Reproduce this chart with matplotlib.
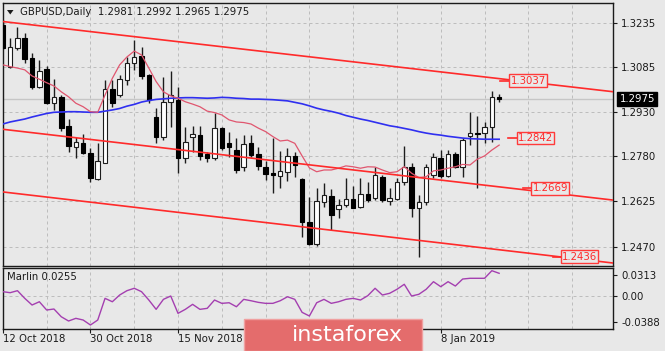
import matplotlib
matplotlib.use("Agg")
import matplotlib.pyplot as plt
import matplotlib.transforms as mtransforms
from matplotlib.patches import Rectangle, Polygon
import numpy as np

# ---------------- data ----------------
symbol_title = "GBPUSD,Daily"
last_ohlc = ["1.2981", "1.2992", "1.2965", "1.2975"]
last_price = 1.2975

opens = [1.3227, 1.3085, 1.3148, 1.3182, 1.3113, 1.3014, 1.3076, 1.2962, 1.2982, 1.2882,
         1.2811, 1.2825, 1.2791, 1.2701, 1.2757, 1.3008, 1.2988, 1.3039, 1.3096, 1.3121,
         1.3056, 1.2914, 1.2846, 1.2965, 1.2971, 1.2772, 1.2844, 1.2851, 1.2787, 1.2772,
         1.2874, 1.2823, 1.2800, 1.2741, 1.2823, 1.2787, 1.2743, 1.2721, 1.2713, 1.2726,
         1.2780, 1.2701, 1.2555, 1.2479, 1.2624, 1.2643, 1.2598, 1.2612, 1.2632, 1.2605,
         1.2650, 1.2636, 1.2709, 1.2627, 1.2633, 1.2692, 1.2743, 1.2601, 1.2624, 1.2715,
         1.2772, 1.2711, 1.2786, 1.2743, 1.2848, 1.2858, 1.2857, 1.2878, 1.2981]
highs = [1.3244, 1.3182, 1.3221, 1.3199, 1.3133, 1.3108, 1.3087, 1.3042, 1.2988, 1.2905,
         1.2846, 1.2855, 1.2808, 1.2825, 1.3039, 1.3039, 1.3056, 1.3118, 1.3176, 1.3153,
         1.3060, 1.2943, 1.3049, 1.3071, 1.3016, 1.2880, 1.2882, 1.2882, 1.2794, 1.2928,
         1.2880, 1.2863, 1.2841, 1.2852, 1.2852, 1.2811, 1.2763, 1.2840, 1.2798, 1.2806,
         1.2793, 1.2703, 1.2639, 1.2669, 1.2687, 1.2666, 1.2633, 1.2704, 1.2678, 1.2706,
         1.2692, 1.2743, 1.2715, 1.2669, 1.2705, 1.2814, 1.2756, 1.2647, 1.2753, 1.2790,
         1.2800, 1.2800, 1.2793, 1.2841, 1.2931, 1.2916, 1.2897, 1.3003, 1.2992]
lows = [1.3145, 1.3081, 1.3142, 1.3098, 1.3010, 1.3011, 1.2957, 1.2937, 1.2865, 1.2794,
        1.2774, 1.2787, 1.2692, 1.2698, 1.2755, 1.2948, 1.2982, 1.3022, 1.3073, 1.3042,
        1.2960, 1.2823, 1.2834, 1.2880, 1.2721, 1.2755, 1.2794, 1.2766, 1.2760, 1.2766,
        1.2800, 1.2777, 1.2721, 1.2730, 1.2777, 1.2732, 1.2698, 1.2654, 1.2669, 1.2694,
        1.2709, 1.2502, 1.2476, 1.2472, 1.2607, 1.2527, 1.2567, 1.2605, 1.2601, 1.2603,
        1.2624, 1.2630, 1.2624, 1.2612, 1.2628, 1.2681, 1.2572, 1.2436, 1.2612, 1.2705,
        1.2705, 1.2708, 1.2739, 1.2709, 1.2817, 1.2669, 1.2823, 1.2829, 1.2965]
closes = [1.3150, 1.3153, 1.3182, 1.3110, 1.3014, 1.3070, 1.2962, 1.2980, 1.2876, 1.2815,
          1.2829, 1.2789, 1.2704, 1.2763, 1.3008, 1.2962, 1.3042, 1.3096, 1.3119, 1.3053,
          1.2971, 1.2846, 1.2965, 1.2988, 1.2772, 1.2829, 1.2855, 1.2780, 1.2772, 1.2876,
          1.2806, 1.2811, 1.2732, 1.2821, 1.2783, 1.2747, 1.2718, 1.2714, 1.2729, 1.2780,
          1.2749, 1.2555, 1.2479, 1.2626, 1.2647, 1.2578, 1.2612, 1.2633, 1.2603, 1.2650,
          1.2630, 1.2715, 1.2630, 1.2637, 1.2692, 1.2743, 1.2601, 1.2624, 1.2743, 1.2775,
          1.2711, 1.2787, 1.2743, 1.2834, 1.2859, 1.2855, 1.2878, 1.2980, 1.2975]

ma_slow = [1.2889, 1.2896, 1.2901, 1.2906, 1.2913, 1.2919, 1.2925, 1.2929, 1.2930, 1.2931,
           1.2931, 1.2930, 1.2929, 1.2929, 1.2933, 1.2937, 1.2942, 1.2950, 1.2956, 1.2964,
           1.2969, 1.2973, 1.2975, 1.2977, 1.2978, 1.2979, 1.2979, 1.2978, 1.2977, 1.2978,
           1.2980, 1.2979, 1.2977, 1.2976, 1.2974, 1.2974, 1.2973, 1.2972, 1.2970, 1.2968,
           1.2963, 1.2958, 1.2951, 1.2943, 1.2937, 1.2932, 1.2926, 1.2918, 1.2912, 1.2906,
           1.2901, 1.2895, 1.2889, 1.2883, 1.2879, 1.2874, 1.2869, 1.2863, 1.2858, 1.2854,
           1.2851, 1.2847, 1.2844, 1.2841, 1.2839, 1.2838, 1.2837, 1.2837, 1.2837]
ma_fast = [1.3091, 1.3085, 1.3080, 1.3074, 1.3053, 1.3042, 1.3030, 1.3019, 1.2999, 1.2982,
           1.2960, 1.2948, 1.2931, 1.2929, 1.2988, 1.3045, 1.3091, 1.3118, 1.3138, 1.3125,
           1.3080, 1.3034, 1.2999, 1.2985, 1.2977, 1.2965, 1.2957, 1.2948, 1.2933, 1.2928,
           1.2920, 1.2903, 1.2896, 1.2894, 1.2889, 1.2875, 1.2863, 1.2846, 1.2831, 1.2834,
           1.2823, 1.2780, 1.2739, 1.2726, 1.2732, 1.2732, 1.2738, 1.2746, 1.2743, 1.2738,
           1.2743, 1.2742, 1.2732, 1.2723, 1.2726, 1.2743, 1.2721, 1.2706, 1.2709, 1.2729,
           1.2732, 1.2738, 1.2743, 1.2751, 1.2749, 1.2769, 1.2780, 1.2800, 1.2817]

marlin = [0.0062, 0.0047, 0.0077, -0.0038, -0.0138, -0.0089, -0.0213, -0.0198, -0.0314, -0.0378,
          -0.0338, -0.0363, -0.0438, -0.0363, -0.0038, -0.0089, 0.0012, 0.0077, 0.0113, 0.0062,
          -0.0063, -0.0203, -0.0053, -0.0003, -0.0263, -0.0203, -0.0128, -0.0203, -0.0188, -0.0063,
          -0.0113, -0.0104, -0.0164, -0.0053, -0.0074, -0.0098, -0.0113, -0.0113, -0.0074, -0.0014,
          -0.0053, -0.0248, -0.0303, -0.0104, -0.0053, -0.0113, -0.0089, -0.0053, -0.0038, -0.0063,
          0.0002, 0.0113, 0.0012, 0.0038, 0.0098, 0.0173, -0.0003, 0.0023, 0.0098, 0.0212,
          0.0137, 0.0212, 0.0147, 0.0252, 0.0263, 0.0263, 0.0263, 0.0377, 0.0338]
marlin_name = "Marlin"
marlin_last = "0.0255"

price_ticks = [1.3235, 1.3085, 1.2930, 1.2780, 1.2625, 1.2470]
marlin_ticks = [0.0313, 0.0, -0.0388]
marlin_tick_labels = ["0.0313", "0.00", "-0.0388"]
date_tick_bars = [0, 12, 24, 36, 48, 60]
date_tick_labels = ["12 Oct 2018", "30 Oct 2018", "15 Nov 2018", "", "", "8 Jan 2019"]

channel_anchor_bars = [0, 83]
channel_upper = [1.3239, 1.3001]
channel_middle = [1.2871, 1.2631]
channel_lower = [1.2657, 1.2416]

level_values = [1.3037, 1.2842, 1.2669, 1.2436]
level_labels = ["1.3037", "1.2842", "1.2669", "1.2436"]

brand = "instaforex"

# ---------------- style / layout ----------------
W, H = 665, 351
BG = "#e8e8e8"
GRID = "#bdbdbd"
FONT = "DejaVu Sans"
FS = 7.3

plt.rcParams["font.family"] = [FONT]
fig = plt.figure(figsize=(W / 100, H / 100), dpi=100, facecolor=BG)

def fx(px):
    return px / W

def fy(py):
    return 1 - py / H

L, R = 2.5, 613.0
main_top, main_bot = 2.7, 265.7
ind_top, ind_bot = 267.5, 329.0

ax = fig.add_axes([fx(L), fy(main_bot), fx(R) - fx(L), fy(main_top) - fy(main_bot)])
ax2 = fig.add_axes([fx(L), fy(ind_bot), fx(R) - fx(L), fy(ind_top) - fy(ind_bot)], sharex=ax)

n = len(closes)
xs = np.arange(n)
x_lo, x_hi = -0.05, 83.6

for a in (ax, ax2):
    a.set_facecolor(BG)
    for s in a.spines.values():
        s.set_color("#1a1a1a")
        s.set_linewidth(1.0)
    a.set_xlim(x_lo, x_hi)

ax.set_ylim(1.24051, 1.33033)
ax2.set_ylim(-0.0498, 0.0425)

# grid
grid_bars = np.arange(6, 84, 6)
for a in (ax, ax2):
    for gb in grid_bars:
        a.axvline(gb, color=GRID, lw=0.72, ls=(0, (3, 3)), zorder=0.5)
for p in price_ticks:
    ax.axhline(p, color=GRID, lw=0.72, ls=(0, (3, 3)), zorder=0.5)
ax2.axhline(0.0, color=GRID, lw=0.72, ls=(0, (3, 3)), zorder=0.5)

# bid line
ax.axhline(last_price, color="#c6c6c6", lw=1.0, zorder=0.6)

# candles
o = np.array(opens); c = np.array(closes); h = np.array(highs); l = np.array(lows)
ax.vlines(xs, l, h, color="#1c1c1c", lw=1.0, zorder=2)
up = c >= o
body_lo = np.minimum(o, c)
body_h = np.maximum(np.abs(c - o), 0.00005)
ax.bar(xs[up], body_h[up], bottom=body_lo[up], width=0.62, color="white",
       edgecolor="#1c1c1c", linewidth=0.8, zorder=3)
ax.bar(xs[~up], body_h[~up], bottom=body_lo[~up], width=0.62, color="black",
       edgecolor="black", linewidth=0.8, zorder=3)

# moving averages
ax.plot(xs, ma_slow, color="#2f2ff0", lw=1.2, zorder=4)
ax.plot(xs, ma_fast, color="#e0566f", lw=0.9, zorder=4)

# channel
ext = np.array([x_lo - 1, x_hi + 1])
for ch in (channel_upper, channel_middle, channel_lower):
    slope = (ch[1] - ch[0]) / (channel_anchor_bars[1] - channel_anchor_bars[0])
    ax.plot(ext, ch[0] + slope * (ext - channel_anchor_bars[0]), color="#ff2a2a",
            lw=1.2, zorder=5)

# level labels (layout positions in bar units)
label_centers = [72.0, 73.0, 75.0, 79.0]
seg_spans = [(68.1, 69.5), (69.2, 70.5), (71.3, 72.5), (75.4, 76.6)]
for val, txt, cx, (s0, s1) in zip(level_values, level_labels, label_centers, seg_spans):
    ax.plot([s0, s1], [val, val], color="#ff2a2a", lw=1.2, zorder=6)
    ax.text(cx, val, txt, color="#ff2a2a", fontsize=FS, ha="center", va="center",
            zorder=7, bbox=dict(boxstyle="square,pad=0.12", fc=BG, ec="#ff3a3a", lw=1.0))

# right axis ticks
ax.yaxis.tick_right()
ax.set_yticks(price_ticks)
ax.set_yticklabels([f"{p:.4f}" for p in price_ticks])
ax2.yaxis.tick_right()
ax2.set_yticks(marlin_ticks)
ax2.set_yticklabels(marlin_tick_labels)
for a in (ax, ax2):
    a.tick_params(axis="y", direction="out", length=3, width=0.8, pad=3,
                  labelsize=FS, colors="#1a1a1a")
ax.tick_params(axis="x", bottom=False, labelbottom=False)

ax2.set_xticks(date_tick_bars)
ax2.set_xticklabels([])
ax2.tick_params(axis="x", direction="out", length=3, width=0.8, colors="#1a1a1a")
for b, t in zip(date_tick_bars, date_tick_labels):
    if t:
        ax2.text(b, -0.165, t,
                 transform=mtransforms.blended_transform_factory(ax2.transData, ax2.transAxes),
                 ha="left", va="center", fontsize=FS, color="#1a1a1a", clip_on=False)

# current price box
ax.text(1.0 + 6.5 / (R - L), last_price, f"{last_price:.4f}",
        transform=mtransforms.blended_transform_factory(ax.transAxes, ax.transData),
        ha="left", va="center", color="white", fontsize=FS, zorder=10, clip_on=False,
        bbox=dict(boxstyle="square,pad=0.22", fc="black", ec="black"))

# title
ax.text((20 - L) / (R - L), 1 - (12 - main_top) / (main_bot - main_top),
        symbol_title + "  " + " ".join(last_ohlc), transform=ax.transAxes,
        ha="left", va="center", fontsize=FS, color="#1a1a1a", zorder=10)
fig.patches.append(Polygon([[fx(7), fy(10)], [fx(13.5), fy(10)], [fx(10.25), fy(14.5)]],
                           closed=True, transform=fig.transFigure, fc="#1a1a1a", ec="none"))

# indicator
ax2.plot(xs, marlin, color="#a43fb0", lw=1.0, zorder=4)
ax2.text((7 - L) / (R - L), (ind_bot - 277) / (ind_bot - ind_top),
         f"{marlin_name} {marlin_last}", transform=ax2.transAxes,
         ha="left", va="center", fontsize=FS, color="#1a1a1a", zorder=10)

# brand box
fig.patches.append(Rectangle((fx(244), 0), fx(422) - fx(244), fy(319), transform=fig.transFigure,
                             fc="#e46c6c", ec="#f0a0a0", lw=1.0, zorder=20))
fig.text(fx(347), fy(335), brand, color="white", fontsize=16, ha="center", va="center",
         zorder=21)

fig.savefig("out.png", dpi=100, facecolor=BG)
